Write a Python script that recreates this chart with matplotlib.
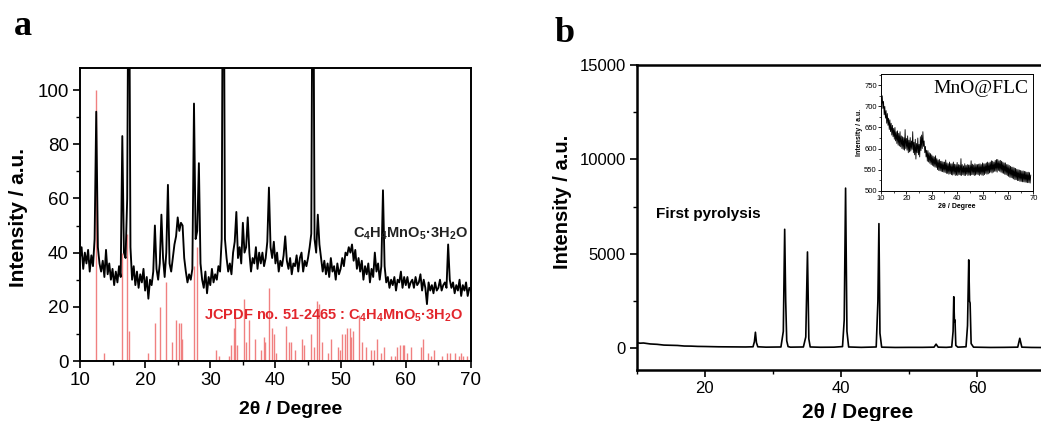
import numpy as np
import matplotlib
matplotlib.use("Agg")
import matplotlib.pyplot as plt
from matplotlib.ticker import MultipleLocator

plt.rcParams['font.family'] = ['Liberation Sans', 'DejaVu Sans']
# formulas in the labels are bold, subscripts included
plt.rcParams['mathtext.fontset'] = 'custom'
plt.rcParams['mathtext.rm'] = 'Liberation Sans:bold'
plt.rcParams['mathtext.default'] = 'rm'

# ---- panel a: measured pattern, sampled every 0.25 degree from 10 to 70
a_step = 0.25
a_intensity = [
    38, 42, 34, 40,   # 10
    36, 41, 33, 39,   # 11
    35, 45, 92, 42,   # 12
    36, 33, 37, 31,   # 13
    41, 32, 36, 30,   # 14
    34, 28, 33, 29,   # 15
    35, 31, 83, 40,   # 16
    38, 60, 180, 42,  # 17
    30, 35, 28, 33,   # 18
    27, 32, 29, 34,   # 19
    26, 31, 23, 30,   # 20
    28, 33, 50, 34,   # 21
    30, 36, 54, 38,   # 22
    31, 40, 65, 36,   # 23
    33, 38, 43, 46,   # 24
    53, 48, 51, 50,   # 25
    38, 33, 29, 32,   # 26
    30, 34, 95, 45,   # 27
    48, 73, 36, 30,   # 28
    27, 33, 25, 31,   # 29
    28, 34, 29, 32,   # 30
    30, 35, 33, 45,   # 31
    200, 45, 38, 33,  # 32
    36, 32, 40, 44,   # 33
    55, 38, 42, 36,   # 34
    51, 40, 42, 53,   # 35
    40, 33, 38, 36,   # 36
    42, 34, 40, 36,   # 37
    40, 35, 38, 44,   # 38
    64, 42, 38, 44,   # 39
    36, 40, 33, 37,   # 40
    35, 39, 46, 37,   # 41
    34, 38, 32, 36,   # 42
    35, 39, 33, 38,   # 43
    40, 33, 37, 35,   # 44
    38, 42, 47, 190,  # 45
    45, 40, 54, 43,   # 46
    38, 33, 37, 32,   # 47
    36, 31, 38, 33,   # 48
    35, 30, 36, 32,   # 49
    34, 38, 35, 40,   # 50
    39, 42, 40, 43,   # 51
    37, 41, 34, 38,   # 52
    33, 37, 30, 35,   # 53
    32, 36, 29, 34,   # 54
    31, 40, 33, 36,   # 55
    30, 35, 63, 35,   # 56
    29, 31, 27, 30,   # 57
    28, 31, 26, 30,   # 58
    29, 33, 27, 31,   # 59
    28, 31, 27, 29,   # 60
    30, 27, 31, 28,   # 61
    29, 32, 26, 30,   # 62
    27, 21, 29, 26,   # 63
    28, 25, 29, 26,   # 64
    27, 30, 26, 28,   # 65
    29, 27, 43, 30,   # 66
    27, 29, 25, 28,   # 67
    26, 30, 24, 28,   # 68
    26, 29, 24, 27,   # 69
    26,               # 70
]

# JCPDF 51-2465 reference lines
ref_pos = [12.5, 13.7, 16.45, 17.26, 17.47, 20.43, 21.46, 22.3, 23.25, 24.2,
           24.8, 25.15, 25.5, 25.7, 27.5, 28.0, 30.9, 31.3, 32.8, 33.2,
           33.6, 33.8, 34.1, 35.2, 35.5, 35.9, 36.8, 37.8, 38.2, 38.4,
           38.95, 39.4, 39.8, 40.1, 41.65, 42.1, 42.4, 43.0, 44.1, 44.4,
           45.5, 45.9, 46.4, 46.65, 47.2, 48.0, 48.6, 49.6, 49.85, 50.2,
           50.6, 51.0, 51.4, 51.6, 51.9, 52.8, 53.3, 53.9, 54.6, 55.1,
           55.6, 56.2, 56.6, 57.7, 58.3, 58.7, 59.1, 59.5, 59.8, 60.2,
           60.8, 62.4, 62.7, 63.4, 63.8, 64.4, 65.5, 66.3, 66.8, 67.6,
           68.2, 68.5, 68.8, 69.4]
ref_int = [100, 3, 40, 47, 11, 3, 14, 20, 29, 7,
           15, 14, 14, 8, 35, 42, 4, 2, 2, 6,
           12, 16, 6, 23, 7, 15, 8, 4, 9, 7,
           27, 12, 10, 3, 13, 7, 7, 4, 8, 6,
           10, 5, 22, 21, 7, 3, 8, 5, 4, 10,
           10, 12, 12, 9, 11, 17, 7, 5, 4, 4,
           8, 3, 5, 2, 2, 5, 6, 6, 6, 3,
           5, 5, 8, 3, 2, 4, 2, 3, 3, 3,
           2, 3, 2, 2]

# ---- panel b: first pyrolysis pattern
b_theta = [10, 10.5, 11, 12, 13, 14, 15, 16, 17, 18, 19, 20, 22, 24, 26,
           27.1, 27.3, 27.45, 27.6, 27.8, 29, 31.2, 31.55, 31.75, 31.9, 32.05,
           32.25, 32.6, 34.5, 34.85, 35.1, 35.3, 35.5, 37, 39, 40.25, 40.5,
           40.7, 40.9, 41.15, 43, 45.2, 45.45, 45.6, 45.75, 46.0, 48, 50, 52,
           53.7, 54.0, 54.3, 55.5, 56.3, 56.5, 56.6, 56.7, 56.78, 56.9, 57.2,
           58.4, 58.62, 58.8, 58.92, 59.0, 59.15, 59.5, 62, 64, 66.0, 66.3,
           66.6, 68, 70]
b_intensity = [300, 270, 280, 230, 210, 170, 160, 150, 120, 115, 100, 95, 80, 75, 70,
               80, 350, 850, 300, 80, 60, 70, 900, 6300, 2500, 400,
               90, 60, 70, 600, 5100, 500, 70, 55, 60, 90, 1500,
               8480, 900, 70, 50, 70, 2500, 6600, 800, 60, 45, 50, 50,
               60, 220, 60, 50, 70, 900, 2730, 1400, 1500, 150, 60,
               80, 1200, 4680, 2500, 2400, 250, 60, 45, 50, 60, 530,
               60, 45, 40]

# ---- inset: MnO@FLC, sampled every 0.25 degree from 10 to 70
c_step = 0.25
c_intensity = [
    740, 705, 725, 695,  712, 680, 700, 672,  690, 660, 683, 655,
    672, 645, 668, 640,  660, 632, 655, 628,  648, 622, 650, 618,
    640, 612, 642, 608,  636, 606, 640, 604,  630, 600, 628, 598,
    626, 596, 645, 600,  624, 596, 630, 590,  620, 592, 626, 594,
    618, 598, 640, 590,  615, 585, 622, 575,  612, 590, 625, 585,
    610, 580, 628, 595,  632, 600, 640, 605,  618, 590, 605, 580,
    596, 570, 595, 568,  590, 565, 588, 562,  585, 560, 582, 558,
    580, 556, 583, 555,  576, 550, 573, 548,  574, 547, 570, 546,
    570, 545, 568, 544,  568, 543, 573, 541,  566, 541, 564, 539,
    568, 540, 564, 538,  564, 537, 568, 539,  563, 536, 562, 537,
    567, 536, 562, 538,  561, 537, 576, 536,  562, 538, 559, 536,
    564, 536, 560, 539,  562, 536, 561, 537,  561, 536, 571, 538,
    563, 538, 561, 536,  564, 537, 562, 539,  562, 538, 563, 536,
    564, 539, 562, 537,  566, 536, 564, 538,  564, 541, 566, 539,
    568, 540, 566, 542,  568, 544, 571, 542,  570, 544, 568, 546,
    572, 546, 574, 544,  574, 548, 571, 546,  572, 544, 570, 542,
    568, 541, 566, 539,  566, 538, 562, 536,  562, 534, 560, 532,
    558, 531, 556, 530,  556, 528, 554, 526,  553, 526, 551, 524,
    550, 524, 549, 522,  548, 522, 547, 521,  547, 521, 546, 520,
    545, 520, 544, 519,  544, 519, 543, 518,
    537,
]

a_theta = 10 + a_step * np.arange(len(a_intensity))
c_theta = 10 + c_step * np.arange(len(c_intensity))

fig = plt.figure(figsize=(10.41, 4.21), dpi=100)

# ---------------- panel a
ax = fig.add_axes([0.0768, 0.1425, 0.3756, 0.6952])
ax.vlines(ref_pos, 0, ref_int, color='#f08080', linewidth=1.0)
ax.plot(a_theta, a_intensity, color='black', linewidth=1.35)
ax.set_xlim(10, 70)
ax.set_ylim(0, 108)
ax.xaxis.set_major_locator(MultipleLocator(10))
ax.xaxis.set_minor_locator(MultipleLocator(5))
ax.yaxis.set_major_locator(MultipleLocator(20))
ax.yaxis.set_minor_locator(MultipleLocator(10))
ax.tick_params(which='major', direction='out', length=5, width=1.2, labelsize=13.5, pad=3)
ax.tick_params(which='minor', direction='out', length=3, width=1.0)
for s in ax.spines.values():
    s.set_linewidth(1.4)
ax.set_xlabel('2θ / Degree', fontsize=14, fontweight='bold')
ax.set_ylabel('Intensity / a.u.', fontsize=15, fontweight='bold')
ax.xaxis.set_label_coords(0.539, -0.137)
ax.yaxis.set_label_coords(-0.133, 0.49)
ax.text(51.9, 47, r'C$_4$H$_4$MnO$_5$·3H$_2$O', fontsize=10.5, fontweight='bold',
        color='#222222', va='center')
ax.text(29.0, 16.6, r'JCPDF no. 51-2465 : C$_4$H$_4$MnO$_5$·3H$_2$O', fontsize=10.5,
        fontweight='bold', color='#e2262c', va='center')
fig.text(0.0135, 0.938, 'a', fontsize=26, fontweight='bold', family='Liberation Serif',
         va='center')

# ---------------- panel b
bx = fig.add_axes([0.6116, 0.1211, 0.3922, 0.7245])
bx.plot(b_theta, b_intensity, color='black', linewidth=1.2)
bx.set_xlim(10, 70)
bx.set_ylim(-1150, 15000)
bx.xaxis.set_major_locator(MultipleLocator(20))
bx.xaxis.set_minor_locator(MultipleLocator(10))
bx.yaxis.set_major_locator(MultipleLocator(5000))
bx.yaxis.set_minor_locator(MultipleLocator(2500))
bx.tick_params(which='major', direction='out', length=5, width=1.2, labelsize=12, pad=3)
bx.tick_params(which='minor', direction='out', length=3, width=1.0)
for s in bx.spines.values():
    s.set_linewidth(1.8)
bx.set_xlabel('2θ / Degree', fontsize=15, fontweight='bold')
bx.set_ylabel('Intensity / a.u.', fontsize=14.5, fontweight='bold')
bx.xaxis.set_label_coords(0.54, -0.108)
bx.yaxis.set_label_coords(-0.159, 0.55)
bx.text(12.9, 7100, 'First pyrolysis', fontsize=11, fontweight='bold', va='center')
fig.text(0.533, 0.92, 'b', fontsize=26, fontweight='bold', family='Liberation Serif',
         va='center')

# ---------------- inset
ix = fig.add_axes([0.8463, 0.547, 0.1463, 0.2765])
ix.plot(c_theta, c_intensity, color='black', linewidth=0.6)
ix.set_xlim(10, 70)
ix.set_ylim(500, 776)
ix.xaxis.set_major_locator(MultipleLocator(10))
ix.xaxis.set_minor_locator(MultipleLocator(5))
ix.yaxis.set_major_locator(MultipleLocator(50))
ix.yaxis.set_minor_locator(MultipleLocator(25))
ix.tick_params(which='major', direction='out', length=2, width=0.6, labelsize=5.5, pad=1)
ix.tick_params(which='minor', direction='out', length=1.2, width=0.5)
for s in ix.spines.values():
    s.set_linewidth(0.7)
ix.set_xlabel('2θ / Degree', fontsize=5, fontweight='bold', labelpad=1)
ix.set_ylabel('Intensity / a.u.', fontsize=5, fontweight='bold', labelpad=1)
ix.text(0.97, 0.88, 'MnO@FLC', transform=ix.transAxes, fontsize=14,
        family='Liberation Serif', ha='right', va='center')

fig.savefig('out.png', dpi=100)
